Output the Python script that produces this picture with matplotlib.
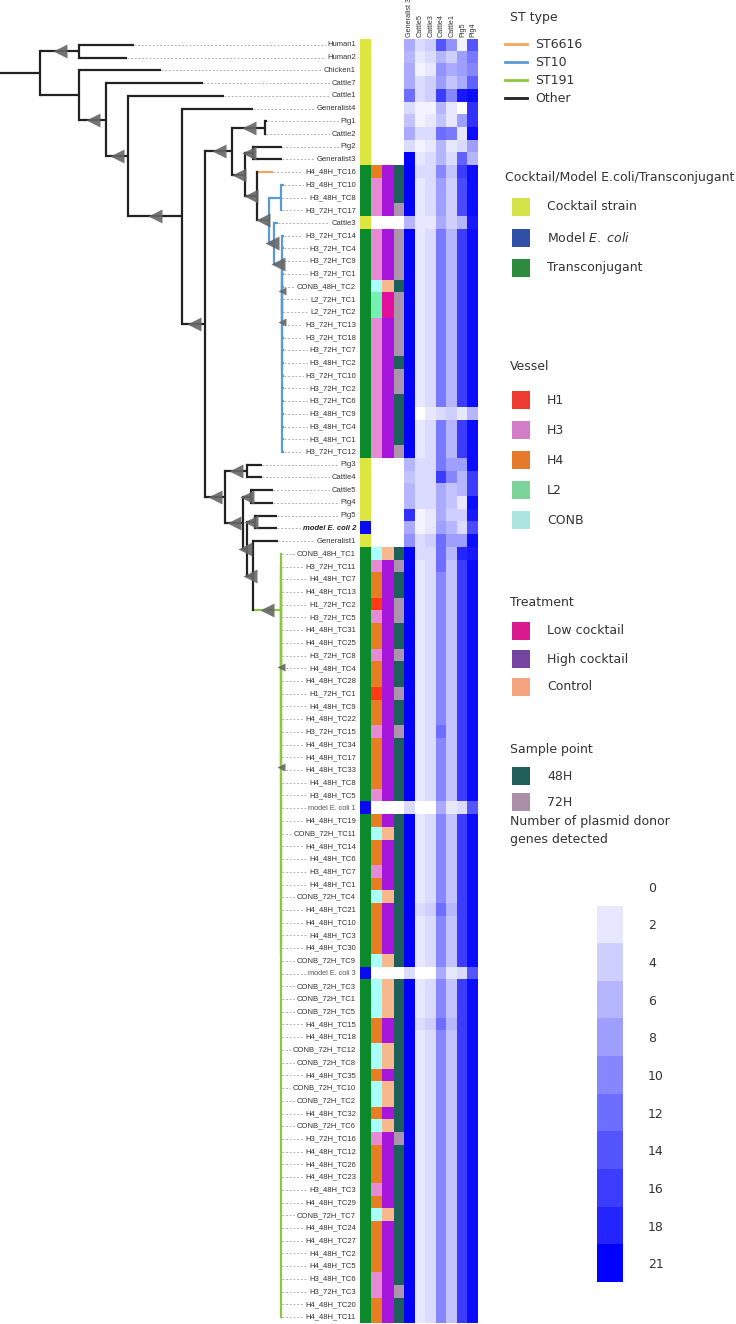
import numpy as np
import matplotlib
matplotlib.use("Agg")
import matplotlib.pyplot as plt
from matplotlib.colors import LinearSegmentedColormap, to_rgb
from matplotlib.patches import Rectangle

W, H = 736, 1324

# =========================
# DATA
# =========================
labels = [
    "Human1", "Human2", "Chicken1", "Cattle7", "Cattle1", "Generalist4", "Pig1", "Cattle2", "Pig2", "Generalist3",
    "H4_48H_TC16", "H3_48H_TC10", "H3_48H_TC8", "H3_72H_TC17", "Cattle3",
    "H3_72H_TC14", "H3_72H_TC4", "H3_72H_TC9", "H3_72H_TC1", "CONB_48H_TC2", "L2_72H_TC1", "L2_72H_TC2",
    "H3_72H_TC13", "H3_72H_TC18", "H3_72H_TC7", "H3_48H_TC2", "H3_72H_TC10", "H3_72H_TC2", "H3_72H_TC6",
    "H3_48H_TC9", "H3_48H_TC4", "H3_48H_TC1", "H3_72H_TC12",
    "Pig3", "Cattle4", "Cattle5", "Pig4", "Pig5", "model E. coli 2", "Generalist1",
    "CONB_48H_TC1", "H3_72H_TC11", "H4_48H_TC7", "H4_48H_TC13", "H1_72H_TC2", "H3_72H_TC5", "H4_48H_TC31",
    "H4_48H_TC25", "H3_72H_TC8", "H4_48H_TC4", "H4_48H_TC28", "H1_72H_TC1", "H4_48H_TC9", "H4_48H_TC22",
    "H3_72H_TC15", "H4_48H_TC34", "H4_48H_TC17", "H4_48H_TC33", "H4_48H_TC8", "H3_48H_TC5", "model E. coli 1",
    "H4_48H_TC19", "CONB_72H_TC11", "H4_48H_TC14", "H4_48H_TC6", "H3_48H_TC7", "H4_48H_TC1", "CONB_72H_TC4",
    "H4_48H_TC21", "H4_48H_TC10", "H4_48H_TC3", "H4_48H_TC30", "CONB_72H_TC9", "model E. coli 3",
    "CONB_72H_TC3", "CONB_72H_TC1", "CONB_72H_TC5", "H4_48H_TC15", "H4_48H_TC18", "CONB_72H_TC12",
    "CONB_72H_TC8", "H4_48H_TC35", "CONB_72H_TC10", "CONB_72H_TC2", "H4_48H_TC32", "CONB_72H_TC6",
    "H3_72H_TC16", "H4_48H_TC12", "H4_48H_TC26", "H4_48H_TC23", "H3_48H_TC3", "H4_48H_TC29", "CONB_72H_TC7",
    "H4_48H_TC24", "H4_48H_TC27", "H4_48H_TC2", "H4_48H_TC5", "H3_48H_TC6", "H3_72H_TC3", "H4_48H_TC20",
    "H4_48H_TC11",
]

# sample point colour per row: 4 = 48H, 7 = 72H, . = none
sample_codes = "".join([
    "..........", "4447.7777477777477444" + "47", ".......",
    "47447744744744744444", ".", "444444444444", ".", "444444444444",
    "7", "44444444444", "7", "44",
])

heat_columns = ["Generalist 3", "Cattle5", "Cattle3", "Cattle4", "Cattle1", "Pig5", "Pig4"]

gene_counts = [
    [7, 3, 4, 14, 9, 1, 14], [6, 2, 3, 6, 4, 8, 11], [7, 1, 2, 9, 7, 8, 10], [7, 3, 4, 8, 5, 7, 13],
    [12, 3, 4, 16, 10, 19, 20], [3, 1, 1, 6, 2, 0, 17], [5, 1, 2, 5, 2, 8, 17], [7, 3, 3, 12, 11, 2, 20],
    [3, 1, 2, 6, 2, 3, 8], [21, 2, 3, 6, 3, 13, 6],
    [21, 3, 3, 10, 5, 16, 20], [21, 2, 3, 8, 4, 15, 20], [21, 2, 3, 8, 4, 15, 20], [21, 2, 3, 8, 4, 15, 20],
    [6, 2, 2, 7, 4, 6, 19],
    [21, 2, 3, 11, 6, 16, 20], [21, 2, 3, 11, 6, 16, 20], [21, 2, 3, 11, 6, 16, 20], [21, 2, 3, 11, 6, 16, 20],
    [21, 2, 3, 11, 6, 16, 20], [21, 2, 3, 11, 6, 16, 20], [21, 2, 3, 11, 6, 16, 20], [21, 2, 3, 11, 6, 16, 20],
    [21, 2, 3, 11, 6, 16, 20], [21, 2, 3, 11, 6, 16, 20], [21, 2, 3, 11, 6, 16, 20], [21, 2, 3, 11, 6, 16, 20],
    [21, 2, 3, 11, 6, 16, 20], [21, 2, 3, 11, 6, 16, 20],
    [21, 0, 2, 3, 4, 2, 6], [21, 2, 3, 11, 6, 16, 20], [21, 2, 3, 11, 6, 16, 20], [21, 2, 3, 11, 6, 16, 20],
    [6, 3, 3, 11, 8, 8, 20], [5, 3, 3, 16, 10, 6, 16], [6, 3, 3, 7, 5, 6, 16], [6, 3, 3, 7, 5, 2, 20],
    [17, 1, 2, 7, 4, 4, 19], [7, 1, 2, 8, 6, 3, 15], [9, 3, 4, 12, 8, 8, 20],
    [21, 3, 3, 12, 6, 18, 19], [21, 2, 3, 12, 5, 16, 20],
    [21, 2, 3, 10, 5, 16, 20], [21, 2, 3, 10, 5, 16, 20], [21, 2, 3, 10, 5, 16, 20], [21, 2, 3, 10, 5, 16, 20],
    [21, 2, 3, 10, 5, 16, 20], [21, 2, 3, 10, 5, 16, 20], [21, 2, 3, 10, 5, 16, 20], [21, 2, 3, 10, 5, 16, 20],
    [21, 2, 3, 10, 5, 16, 20], [21, 2, 3, 10, 5, 16, 20], [21, 2, 3, 10, 5, 16, 20], [21, 2, 3, 10, 5, 16, 20],
    [21, 2, 3, 12, 5, 16, 20],
    [21, 2, 3, 10, 5, 16, 20], [21, 2, 3, 10, 5, 16, 20], [21, 2, 3, 10, 5, 16, 20], [21, 2, 3, 10, 5, 16, 20],
    [21, 2, 3, 10, 5, 16, 20],
    [3, 0, 0, 7, 2, 3, 14],
    [21, 2, 3, 10, 5, 16, 20], [21, 2, 3, 10, 5, 16, 20], [21, 2, 3, 10, 5, 16, 20], [21, 2, 3, 10, 5, 16, 20],
    [21, 2, 3, 10, 5, 16, 20], [21, 2, 3, 10, 5, 16, 20], [21, 2, 3, 10, 5, 16, 20],
    [21, 3, 4, 12, 6, 16, 20],
    [21, 2, 3, 10, 5, 16, 20], [21, 2, 3, 10, 5, 16, 20], [21, 2, 3, 10, 5, 16, 20], [21, 2, 3, 10, 5, 16, 20],
    [3, 0, 0, 7, 2, 3, 14],
    [21, 2, 3, 10, 5, 16, 20], [21, 2, 3, 10, 5, 16, 20], [21, 2, 3, 10, 5, 16, 20],
    [21, 3, 4, 12, 6, 16, 20],
    [21, 2, 3, 10, 5, 16, 20], [21, 2, 3, 10, 5, 16, 20], [21, 2, 3, 10, 5, 16, 20], [21, 2, 3, 10, 5, 16, 20],
    [21, 2, 3, 10, 5, 16, 20], [21, 2, 3, 10, 5, 16, 20], [21, 2, 3, 10, 5, 16, 20], [21, 2, 3, 10, 5, 16, 20],
    [21, 2, 3, 10, 5, 16, 20], [21, 2, 3, 10, 5, 16, 20], [21, 2, 3, 10, 5, 16, 20], [21, 2, 3, 10, 5, 16, 20],
    [21, 2, 3, 10, 5, 16, 20], [21, 2, 3, 10, 5, 16, 20], [21, 2, 3, 10, 5, 16, 20], [21, 2, 3, 10, 5, 16, 20],
    [21, 2, 3, 10, 5, 16, 20], [21, 2, 3, 10, 5, 16, 20], [21, 2, 3, 10, 5, 16, 20], [21, 2, 3, 10, 5, 16, 20],
    [21, 2, 3, 10, 5, 16, 20], [21, 2, 3, 10, 5, 16, 20], [21, 2, 3, 10, 5, 16, 20],
]

legend_levels = [0, 2, 4, 6, 8, 10, 12, 14, 16, 18, 21]

assert len(labels) == 101 and len(sample_codes) == 101 and len(gene_counts) == 101

# =========================
# COLOURS
# =========================
ST6616 = "#f5a55a"
ST10 = "#5b9bd5"
ST191 = "#8dc63f"
OTHER = "#222222"

strain_col = {"C": "#dce63e", "M": "#0a0af0", "T": "#0b8a2c"}
vessel_col = {"H1": "#ff3a14", "H3": "#e68ad4", "H4": "#e67e22", "L2": "#74f0b0", "CONB": "#aaffff"}
treat_of_vessel = {"H1": "High", "H3": "High", "H4": "High", "L2": "Low", "CONB": "Control"}
treat_col = {"Low": "#e2109c", "High": "#a816dc", "Control": "#f8b88e"}
sample_col = {"4": "#1f5f5b", "7": "#ab95aa"}

blues = LinearSegmentedColormap.from_list("wb", ["#ffffff", "#0000ff"])


# =========================
# TREE (branch lengths in drawing units)
# =========================
def leaf(row, bl, color=None):
    return {"row": row, "bl": bl, "kids": [], "color": color, "mark": False}


def node(bl, *kids, color=None, mark=True):
    return {"row": None, "bl": bl, "kids": list(kids), "color": color, "mark": mark}


def tips(a, b, bl):
    return [leaf(r, bl) for r in range(a, b)]


tree = node(40,
    node(39, leaf(0, 55), leaf(1, 48)),
    node(39,
        leaf(2, 82),
        node(27,
            leaf(3, 97),
            node(22,
                leaf(4, 96),
                node(54,
                    leaf(5, 71),
                    node(23,
                        node(27,
                            node(33, leaf(6, 2), leaf(7, 1)),
                            node(13,
                                node(8, leaf(8, 29), leaf(9, 29)),
                                node(12,
                                    leaf(10, 16, color=ST6616),
                                    node(12,
                                        node(12, leaf(11, 3), leaf(12, 0.5), leaf(13, 0.5), mark=False),
                                        node(5,
                                            leaf(14, 4),
                                            node(8, leaf(15, 2), leaf(16, 2),
                                                node(0, leaf(17, 2),
                                                    node(0, leaf(18, 2),
                                                        node(0, leaf(19, 2), node(0, leaf(20, 1), leaf(21, 1), mark=False),
                                                             *tips(22, 33, 2), mark=False)))),
                                        ),
                                        color=ST10),
                                ),
                            ),
                        ),
                        node(20,
                            node(22, leaf(33, 15), leaf(34, 15)),
                            node(18,
                                node(8, leaf(35, 22), leaf(36, 22)),
                                node(4,
                                    node(8, leaf(37, 22), leaf(38, 22)),
                                    node(6,
                                        leaf(39, 25),
                                        node(28, leaf(40, 1),
                                            node(0, leaf(41, 1),
                                                node(0, leaf(42, 1), node(0, *tips(43, 101, 1), mark=False))),
                                            color=ST191),
                                    ),
                                ),
                            ),
                        ),
                    ),
                ),
            ),
        ),
        mark=False),
    mark=False)

# =========================
# LAYOUT
# =========================
fig = plt.figure(figsize=(W / 100, H / 100), dpi=100)
row_top, row_bot = 38.6, 1323.4
y0 = 1 - row_bot / H
hh = (row_bot - row_top) / H
n_rows = len(labels)

ax = fig.add_axes([0, y0, 360 / W, hh])
ax.set_xlim(0, 360)
ax.set_ylim(n_rows - 0.5, -0.5)
ax.axis("off")

tip_x = {}
marks = []


def draw(n, x0, color):
    c = n["color"] or color
    x = x0 + n["bl"]
    if n["row"] is not None:
        y = n["row"]
        ax.plot([x0, x], [y, y], color=c, lw=1.6, solid_capstyle="butt", zorder=3)
        tip_x[y] = x
        return y
    ys = [draw(k, x, c) for k in n["kids"]]
    y = (ys[0] + ys[-1]) / 2
    ax.plot([x, x], [ys[0], ys[-1]], color=c, lw=1.6, solid_capstyle="projecting", zorder=3)
    ax.plot([x0, x], [y, y], color=c, lw=1.6, solid_capstyle="butt", zorder=3)
    if n["mark"]:
        marks.append(((x0 + x) / 2, y, 10 if n["bl"] > 0 else 6))
    return y


draw(tree, 0, OTHER)

for mx, my, ms in marks:
    ax.plot(mx, my, marker="<", ms=ms, color="#666666", mec="none", alpha=0.9, zorder=4)

label_x = 356
for r, name in enumerate(labels):
    ax.plot([tip_x[r], label_x], [r, r], color="#a0a0a0", lw=0.6, ls=(0, (2.2, 2.2)), zorder=1)
    kw = dict(fontsize=5.5, color="#333333", family="Liberation Sans")
    if name == "model E. coli 2":
        kw.update(fontweight="bold", fontstyle="italic", color="#222222")
    elif name.startswith("model"):
        kw.update(color="#555555", fontsize=5.3)
    ax.text(label_x, r, name, ha="right", va="center", zorder=2,
            bbox=dict(facecolor="white", edgecolor="none", pad=1.2), **kw)

# =========================
# ANNOTATION COLUMNS
# =========================
rgb = np.ones((n_rows, 4, 3))
for r, name in enumerate(labels):
    if name.startswith("model"):
        rgb[r, 0] = to_rgb(strain_col["M"])
    elif "_TC" in name:
        vessel = name.split("_")[0]
        rgb[r, 0] = to_rgb(strain_col["T"])
        rgb[r, 1] = to_rgb(vessel_col[vessel])
        rgb[r, 2] = to_rgb(treat_col[treat_of_vessel[vessel]])
        rgb[r, 3] = to_rgb(sample_col[sample_codes[r]])
    else:
        rgb[r, 0] = to_rgb(strain_col["C"])

ax_ann = fig.add_axes([360 / W, y0, 44.3 / W, hh])
ax_ann.imshow(rgb, aspect="auto", interpolation="nearest")
ax_ann.axis("off")

# =========================
# HEATMAP
# =========================
ax_h = fig.add_axes([404.3 / W, y0, 74 / W, hh])
ax_h.imshow(np.array(gene_counts), cmap=blues, vmin=0, vmax=21, aspect="auto", interpolation="nearest")
ax_h.xaxis.tick_top()
ax_h.set_xticks(range(len(heat_columns)))
ax_h.set_xticklabels(heat_columns, rotation=90, fontsize=5.2, color="#333333", family="Liberation Sans")
ax_h.tick_params(length=0, pad=1)
ax_h.set_yticks([])
for s in ax_h.spines.values():
    s.set_visible(False)

# =========================
# LEGENDS
# =========================
lg = fig.add_axes([495 / W, 0, 241 / W, 1])
lg.set_xlim(495, 736)
lg.set_ylim(H, 0)
lg.axis("off")
tkw = dict(fontsize=9, color="#333333", va="center")

lg.text(510, 17, "ST type", **tkw)
for i, (lab, col) in enumerate([("ST6616", ST6616), ("ST10", ST10), ("ST191", ST191), ("Other", OTHER)]):
    yy = 44 + 18 * i
    lg.plot([505, 527], [yy, yy], color=col, lw=2)
    lg.text(535, yy, lab, **tkw)


def swatches(title, tx, ty, items, y_first, step):
    lg.text(tx, ty, title, **tkw)
    for i, (lab, col) in enumerate(items):
        yy = y_first + step * i
        lg.add_patch(Rectangle((512, yy - 9), 18, 18, facecolor=col, edgecolor="none"))
        lg.text(547, yy, lab, **tkw)


swatches("Cocktail/Model E.coli/Transconjugant", 505, 178,
         [("Cocktail strain", "#d4e34a"), (r"Model $\it{E.\ coli}$", "#3050a8"), ("Transconjugant", "#2e8b3e")],
         207, 30.5)
swatches("Vessel", 510, 366,
         [("H1", "#ee3b2f"), ("H3", "#d37dc8"), ("H4", "#e67a2c"), ("L2", "#7cd49a"), ("CONB", "#aee4e0")],
         400, 30)
swatches("Treatment", 510, 602,
         [("Low cocktail", "#d91b8f"), ("High cocktail", "#7444a0"), ("Control", "#f4a57f")],
         631, 28)
swatches("Sample point", 510, 750, [("48H", "#225f5a"), ("72H", "#a990a8")], 776, 26)

lg.text(510, 821, "Number of plasmid donor", **tkw)
lg.text(510, 839, "genes detected", **tkw)

cb_top, cb_bot = 868, 1282
ax_cb = fig.add_axes([597 / W, 1 - cb_bot / H, 26 / W, (cb_bot - cb_top) / H])
ax_cb.imshow(np.array(legend_levels)[:, None], cmap=blues, vmin=0, vmax=21, aspect="auto",
             interpolation="nearest")
ax_cb.set_xticks([])
ax_cb.yaxis.tick_right()
ax_cb.set_yticks(range(len(legend_levels)))
ax_cb.set_yticklabels([str(v) for v in legend_levels], fontsize=9, color="#333333")
ax_cb.tick_params(length=0, pad=18)
for s in ax_cb.spines.values():
    s.set_visible(False)

fig.savefig("out.png", dpi=100, facecolor="white")
